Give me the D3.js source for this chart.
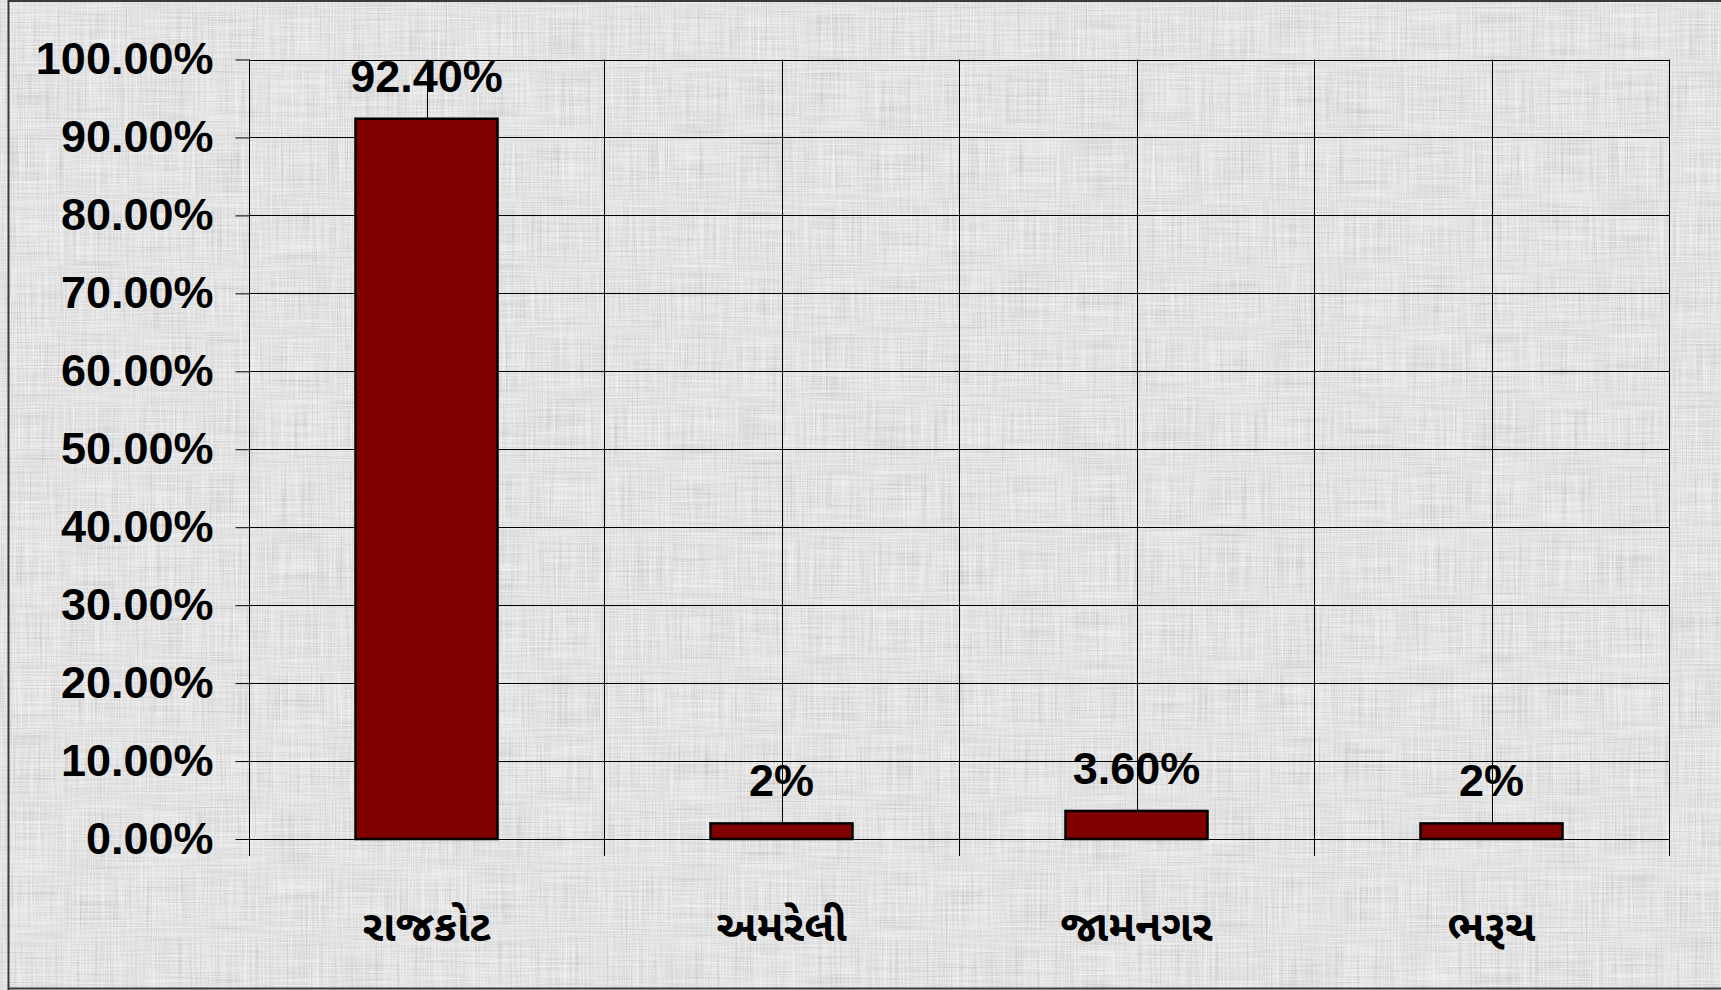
<!DOCTYPE html>
<html>
<head>
<meta charset="utf-8">
<script src="https://cdn.jsdelivr.net/npm/d3@7"></script>
<style>
html,body{margin:0;padding:0;background:#d4d4d4;overflow:hidden;}
svg{display:block;}
</style>
</head>
<body>
<svg id="chart" width="1721" height="990"></svg>
<script>
// ---- data ----
const categories = ["રાજકોટ", "અમરેલી", "જામનગર", "ભરૂચ"];
const values = [92.4, 2, 3.6, 2];
const valueLabels = ["92.40%", "2%", "3.60%", "2%"];
const yTicks = [0, 10, 20, 30, 40, 50, 60, 70, 80, 90, 100];

// ---- layout ----
const W = 1721, H = 990;
const plot = {left: 249, right: 1669, top: 59.5, bottom: 839};
const svg = d3.select("#chart");

// textured background
const defs = svg.append("defs");
const f = defs.append("filter").attr("id", "tex")
  .attr("filterUnits", "userSpaceOnUse")
  .attr("x", 0).attr("y", 0).attr("width", W).attr("height", H);
f.append("feTurbulence").attr("type", "fractalNoise").attr("baseFrequency", "0.8 0.015")
  .attr("numOctaves", 2).attr("seed", 3).attr("result", "v");
f.append("feTurbulence").attr("type", "fractalNoise").attr("baseFrequency", "0.015 0.8")
  .attr("numOctaves", 2).attr("seed", 11).attr("result", "h");
f.append("feComposite").attr("in", "v").attr("in2", "h").attr("operator", "arithmetic")
  .attr("k1", 0).attr("k2", 0.5).attr("k3", 0.5).attr("k4", 0).attr("result", "n");
f.append("feColorMatrix").attr("in", "n").attr("type", "matrix")
  .attr("values", "0.6 0.6 0.6 0 -0.05  0.6 0.6 0.6 0 -0.05  0.6 0.6 0.6 0 -0.05  0 0 0 0 1");

svg.append("rect").attr("width", W).attr("height", H).attr("fill", "#d3d3d3");
svg.append("rect").attr("width", W).attr("height", H).attr("filter", "url(#tex)").attr("opacity", 0.6);

// outer frame
svg.append("line").attr("x1", 8.5).attr("x2", 8.5).attr("y1", 0).attr("y2", H).attr("stroke", "#3a3a3a").attr("stroke-width", 2);
svg.append("line").attr("x1", 8).attr("x2", W).attr("y1", 1).attr("y2", 1).attr("stroke", "#3a3a3a").attr("stroke-width", 2);
svg.append("line").attr("x1", 8).attr("x2", W).attr("y1", 988.5).attr("y2", 988.5).attr("stroke", "#3a3a3a").attr("stroke-width", 2);

// scales
const x = d3.scaleBand().domain(categories).range([plot.left, plot.right]).paddingInner(0).paddingOuter(0);
const y = d3.scaleLinear().domain([0, 100]).range([plot.bottom, plot.top]);
const barW = x.bandwidth() * 0.4;

// horizontal gridlines
svg.append("g").selectAll("line").data(yTicks).join("line")
  .attr("x1", plot.left).attr("x2", plot.right)
  .attr("y1", d => Math.round(y(d)) + 0.5).attr("y2", d => Math.round(y(d)) + 0.5)
  .attr("stroke", "#000").attr("stroke-width", 1);

// vertical gridlines at category centres
svg.append("g").selectAll("line").data(categories).join("line")
  .attr("x1", d => Math.round(x(d) + x.bandwidth() / 2) + 0.5)
  .attr("x2", d => Math.round(x(d) + x.bandwidth() / 2) + 0.5)
  .attr("y1", plot.top).attr("y2", plot.bottom)
  .attr("stroke", "#000").attr("stroke-width", 1);

// category boundary lines (with tick extension below axis)
const bounds = categories.map(c => x(c)).concat([x.range()[1]]);
svg.append("g").selectAll("line").data(bounds).join("line")
  .attr("x1", d => Math.round(d) + 0.5).attr("x2", d => Math.round(d) + 0.5)
  .attr("y1", plot.top).attr("y2", plot.bottom + 17)
  .attr("stroke", "#000").attr("stroke-width", 1);

// y axis
const yAxis = d3.axisLeft(y).tickValues(yTicks).tickFormat(d => d.toFixed(2) + "%")
  .tickSize(14).tickPadding(22);
const gy = svg.append("g").attr("transform", `translate(${plot.left + 0.5},0)`).call(yAxis);
gy.select(".domain").remove();
gy.selectAll(".tick line").attr("stroke", "#000");
gy.selectAll(".tick text")
  .attr("font-family", "'Liberation Sans', Arial, sans-serif")
  .attr("font-weight", "bold").attr("font-size", 45).attr("fill", "#000");

// bars
svg.append("g").selectAll("rect").data(values).join("rect")
  .attr("x", (d, i) => x(categories[i]) + x.bandwidth() / 2 - barW / 2)
  .attr("width", barW)
  .attr("y", d => y(d))
  .attr("height", d => y(0) - y(d))
  .attr("fill", "#800000").attr("stroke", "#000").attr("stroke-width", 2.5);

// value labels
svg.append("g").selectAll("text").data(values).join("text")
  .attr("x", (d, i) => x(categories[i]) + x.bandwidth() / 2)
  .attr("y", d => y(d) - 27)
  .attr("text-anchor", "middle")
  .attr("font-family", "'Liberation Sans', Arial, sans-serif")
  .attr("font-weight", "bold").attr("font-size", 45).attr("fill", "#000")
  .text((d, i) => valueLabels[i]);

// category labels
svg.append("g").selectAll("text").data(categories).join("text")
  .attr("x", d => x(d) + x.bandwidth() / 2)
  .attr("y", 941)
  .attr("text-anchor", "middle")
  .attr("font-family", "'Noto Sans Gujarati', 'Lohit Gujarati', 'Shruti', 'Noto Sans', sans-serif")
  .attr("font-weight", "bold").attr("font-size", 43).attr("fill", "#000")
  .text(d => d);
</script>
</body>
</html>
